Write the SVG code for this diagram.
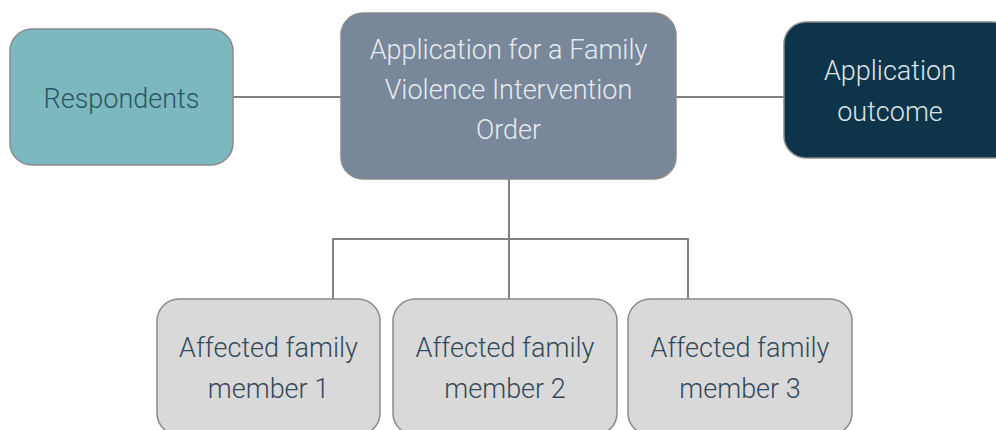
<svg xmlns="http://www.w3.org/2000/svg" width="996" height="430" viewBox="0 0 996 430">
<style>
.box{stroke:#8a8a8a;stroke-width:1.5}
.t{font-family:Roboto,"Liberation Sans",sans-serif;font-weight:300;font-size:27px;text-anchor:middle}
.c{fill:none;stroke:#808080;stroke-width:2}
</style>
<rect width="996" height="430" fill="#ffffff"/>
<g id="connectors">
<path class="c" d="M233 97H341M676 97H784M509 179V299M333 299V239H688V299"/>
</g>
<g id="respondents">
<rect class="box" x="10" y="29" width="223" height="136" rx="22" fill="#7bb9bf"/>
<text class="t" x="121.5" y="108" fill="#2b5566">Respondents</text>
</g>
<g id="application">
<rect class="box" x="341" y="13" width="335" height="166" rx="22" fill="#788799"/>
<text class="t" x="508.5" y="59" fill="#e6ebf0">Application for a Family</text>
<text class="t" x="508.5" y="99" fill="#e6ebf0">Violence Intervention</text>
<text class="t" x="508.5" y="139" fill="#e6ebf0">Order</text>
</g>
<g id="outcome">
<rect class="box" x="784" y="22" width="230" height="136" rx="22" fill="#0e344a"/>
<text class="t" x="890" y="80" fill="#dde5ea">Application</text>
<text class="t" x="890" y="121" fill="#dde5ea">outcome</text>
</g>
<g id="member1">
<rect class="box" x="157" y="299" width="223" height="136" rx="22" fill="#d9d9d9"/>
<text class="t" x="268.5" y="357" fill="#33495a">Affected family</text>
<text class="t" x="268.5" y="398" fill="#33495a">member 1</text>
</g>
<g id="member2">
<rect class="box" x="393" y="299" width="224" height="136" rx="22" fill="#d9d9d9"/>
<text class="t" x="505" y="357" fill="#33495a">Affected family</text>
<text class="t" x="505" y="398" fill="#33495a">member 2</text>
</g>
<g id="member3">
<rect class="box" x="628" y="299" width="224" height="136" rx="22" fill="#d9d9d9"/>
<text class="t" x="740" y="357" fill="#33495a">Affected family</text>
<text class="t" x="740" y="398" fill="#33495a">member 3</text>
</g>
</svg>
